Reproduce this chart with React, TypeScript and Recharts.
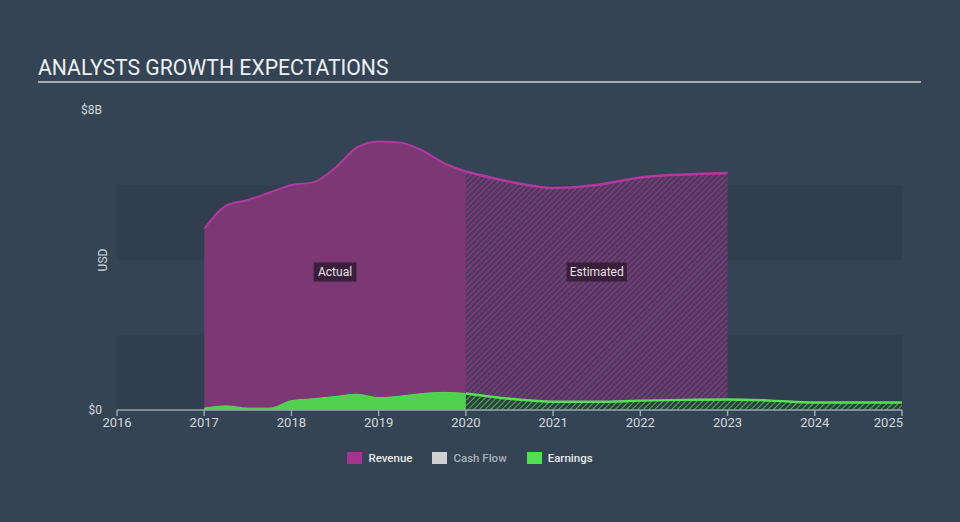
import React from 'react';
import {
  ComposedChart,
  Area,
  XAxis,
  YAxis,
  ReferenceArea,
  ReferenceDot,
} from 'recharts';

// ---- data (values in billions USD) ----
const tickYears = [2016, 2017, 2018, 2019, 2020, 2021, 2022, 2023, 2024, 2025];
const yTicks = [0, 8];
const bandRanges = [
  [0, 2],
  [4, 6],
];

const actualYears = [2017, 2017.25, 2017.5, 2017.75, 2018, 2018.25, 2018.5, 2018.75, 2019, 2019.25, 2019.5, 2019.75, 2020];
const revenueActual = [4.83, 5.45, 5.6, 5.8, 6.0, 6.07, 6.45, 7.0, 7.16, 7.13, 6.92, 6.58, 6.36];
const earningsActual = [0.05, 0.11, 0.05, 0.05, 0.25, 0.3, 0.36, 0.42, 0.33, 0.37, 0.44, 0.47, 0.44];

const estimateYears = [2020, 2020.5, 2021, 2021.5, 2022, 2022.5, 2023, 2023.5, 2024, 2024.5, 2025];
const revenueEstimate = [6.36, 6.09, 5.92, 6.0, 6.2, 6.28, 6.32, null, null, null, null];
const earningsEstimate = [0.44, 0.3, 0.22, 0.22, 0.25, 0.27, 0.28, 0.25, 0.2, 0.2, 0.2];

const regionLabels = [
  { text: 'Actual', year: 2018.5, value: 3.68 },
  { text: 'Estimated', year: 2021.5, value: 3.68 },
];

const legendItems = [
  { name: 'Revenue', color: '#a2358f', text: '#e8e8e8' },
  { name: 'Cash Flow', color: '#d0d0d0', text: '#a9b0b8' },
  { name: 'Earnings', color: '#52e052', text: '#e8e8e8' },
];

const actualData = actualYears.map((year, i) => ({
  year,
  revenue: revenueActual[i],
  earnings: earningsActual[i],
}));
const estimateData = estimateYears.map((year, i) => ({
  year,
  revenue: revenueEstimate[i],
  earnings: earningsEstimate[i],
}));

const BG = '#344454';
const BAND = '#303e4e';

const XTick = (props: any) => {
  const { x, y, payload } = props;
  const last = payload.value === tickYears[tickYears.length - 1];
  return (
    <text
      x={last ? x + 1 : x}
      y={y}
      dy="0.71em"
      textAnchor={last ? 'end' : 'middle'}
      fill="#d4d8dc"
      fontSize={13}
    >
      {payload.value}
    </text>
  );
};

const makeLabel = (text: string) => (p: any) => {
  const w = text.length * 5.8 + 8;
  return (
    <g>
      <rect x={p.cx - w / 2} y={p.cy - 9.5} width={w} height={19} fill="#3a1e3a" />
      <text x={p.cx} y={p.cy} dy="0.35em" textAnchor="middle" fill="#e4e4e4" fontSize={12}>
        {text}
      </text>
    </g>
  );
};

export default function App() {
  return (
    <div
      style={{
        position: 'absolute',
        left: 0,
        top: 0,
        width: 960,
        height: 522,
        background: BG,
        fontFamily: 'Roboto, "Noto Sans", sans-serif',
        overflow: 'hidden',
      }}
    >
      <div
        style={{
          position: 'absolute',
          left: 38,
          top: 55,
          fontSize: 21.2,
          color: '#eef0f2',
          whiteSpace: 'nowrap',
        }}
      >
        ANALYSTS GROWTH EXPECTATIONS
      </div>
      <div
        style={{
          position: 'absolute',
          left: 38,
          top: 81,
          width: 883,
          height: 2,
          background: '#a6adb5',
        }}
      />
      <div style={{ position: 'absolute', left: 0, top: 0 }}>
        <ComposedChart
          width={960}
          height={522}
          margin={{ top: 110, right: 58, left: 0, bottom: 82 }}
        >
          <defs>
            <pattern id="hatchRev" width="4" height="4" patternUnits="userSpaceOnUse" patternTransform="rotate(45)">
              <rect width="4" height="4" fill="#4e3a5e" />
              <line x1="0" y1="0" x2="0" y2="4" stroke="#8f3b86" strokeWidth="2.2" />
            </pattern>
            <pattern id="hatchEarn" width="4" height="4" patternUnits="userSpaceOnUse" patternTransform="rotate(45)">
              <rect width="4" height="4" fill="#2f3e44" />
              <line x1="0" y1="0" x2="0" y2="4" stroke="#49b849" strokeWidth="2" />
            </pattern>
          </defs>
          {bandRanges.map(([a, b], i) => (
            <ReferenceArea
              key={i}
              x1={tickYears[0]}
              x2={tickYears[tickYears.length - 1]}
              y1={a}
              y2={b}
              fill={BAND}
              fillOpacity={1}
              stroke="none"
              zIndex={-50}
              ifOverflow="visible"
            />
          ))}
          <XAxis
            type="number"
            dataKey="year"
            domain={[tickYears[0], tickYears[tickYears.length - 1]]}
            ticks={tickYears}
            allowDataOverflow
            height={30}
            axisLine={{ stroke: '#9aa4ae', strokeWidth: 1.5 }}
            tickLine={{ stroke: '#9aa4ae', strokeWidth: 1.5 }}
            tickSize={6}
            tick={<XTick />}
          />
          <YAxis
            type="number"
            domain={[0, 8]}
            ticks={yTicks}
            width={117}
            axisLine={false}
            tickLine={false}
            tickSize={6}
            tickMargin={9}
            tick={{ fill: '#d4d8dc', fontSize: 12 }}
            tickFormatter={(v: number) => (v === 0 ? '$0' : `$${v}B`)}
            label={{
              content: (p: any) => {
                const vb = p.viewBox;
                const cx = vb.x + vb.width - 14;
                const cy = vb.y + vb.height / 2;
                return (
                  <text
                    x={cx}
                    y={cy}
                    transform={`rotate(-90 ${cx} ${cy})`}
                    textAnchor="middle"
                    dy="0.35em"
                    fill="#d4d8dc"
                    fontSize={12}
                  >
                    USD
                  </text>
                );
              },
            }}
          />
          <Area
            data={actualData}
            dataKey="revenue"
            type="monotone"
            fill="#7b3875"
            fillOpacity={1}
            stroke="#b2399f"
            strokeWidth={2}
            isAnimationActive={false}
            dot={false}
            activeDot={false}
          />
          <Area
            data={estimateData}
            dataKey="revenue"
            type="monotone"
            fill="url(#hatchRev)"
            fillOpacity={1}
            stroke="#b2399f"
            strokeWidth={2.5}
            isAnimationActive={false}
            dot={false}
            activeDot={false}
          />
          <Area
            data={actualData}
            dataKey="earnings"
            type="monotone"
            fill="#50d250"
            fillOpacity={1}
            stroke="#55dc55"
            strokeWidth={1}
            isAnimationActive={false}
            dot={false}
            activeDot={false}
          />
          <Area
            data={estimateData}
            dataKey="earnings"
            type="monotone"
            fill="url(#hatchEarn)"
            fillOpacity={1}
            stroke="#55e055"
            strokeWidth={2.5}
            isAnimationActive={false}
            dot={false}
            activeDot={false}
          />
          {regionLabels.map((l) => (
            <ReferenceDot
              key={l.text}
              x={l.year}
              y={l.value}
              r={0}
              ifOverflow="visible"
              shape={makeLabel(l.text)}
            />
          ))}
        </ComposedChart>
      </div>
      <div
        style={{
          position: 'absolute',
          left: -10,
          top: 451,
          width: 960,
          display: 'flex',
          justifyContent: 'center',
          fontSize: 11.5,
          fontWeight: 500,
        }}
      >
        {legendItems.map((it) => (
          <div key={it.name} style={{ display: 'flex', alignItems: 'center', margin: '0 10px' }}>
            <div style={{ width: 15, height: 12, background: it.color, marginRight: 6 }} />
            <span style={{ color: it.text }}>{it.name}</span>
          </div>
        ))}
      </div>
    </div>
  );
}
